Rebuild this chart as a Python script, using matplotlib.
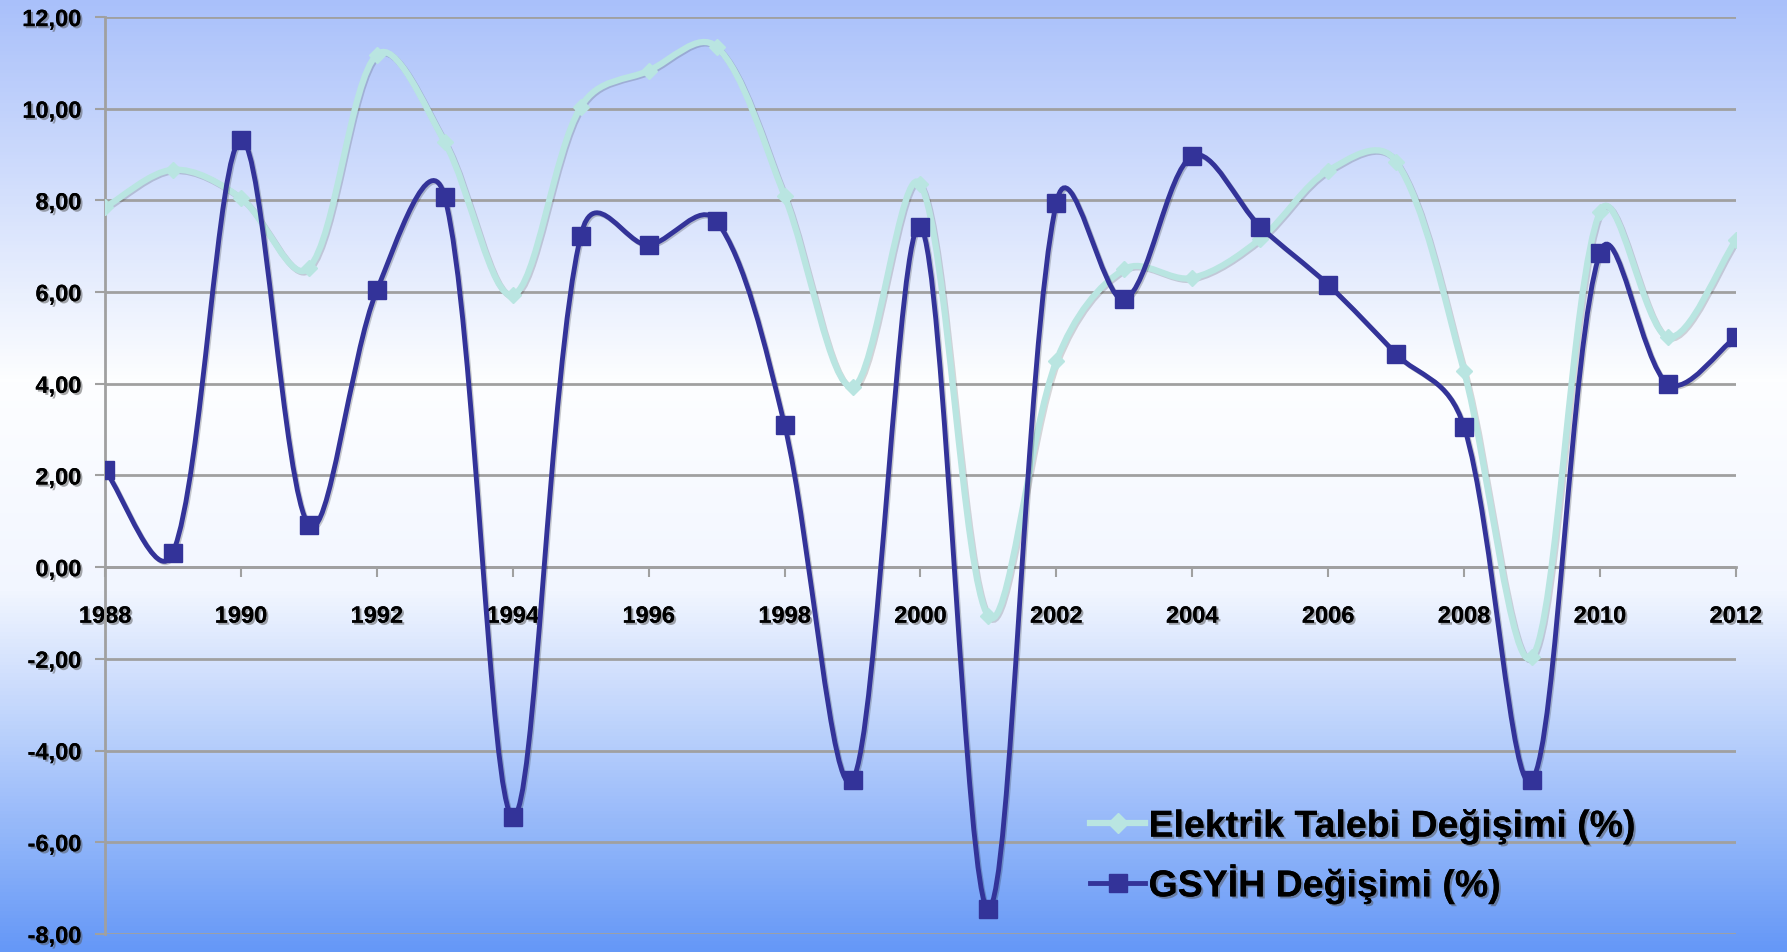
import matplotlib
matplotlib.use("Agg")
import matplotlib.pyplot as plt
import matplotlib.patheffects as pe
from matplotlib.path import Path
from matplotlib.patches import PathPatch
from matplotlib.lines import Line2D
from matplotlib.colors import LinearSegmentedColormap
import numpy as np

years = list(range(1988, 2013))
elektrik = [7.85, 8.67, 8.05, 6.53, 11.18, 9.27, 5.94, 10.04, 10.83, 11.35, 8.10, 3.93, 8.35,
            -1.07, 4.50, 6.50, 6.31, 7.16, 8.65, 8.85, 4.27, -1.96, 7.75, 5.02, 7.13]
gsyih = [2.11, 0.32, 9.32, 0.92, 6.04, 8.07, -5.44, 7.23, 7.03, 7.55, 3.10, -4.65, 7.43,
         -7.45, 7.95, 5.84, 8.97, 7.43, 6.16, 4.65, 3.06, -4.65, 6.86, 4.00, 5.02]
labels = ["Elektrik Talebi Değişimi (%)", "GSYİH Değişimi (%)"]
yticks = [-8, -6, -4, -2, 0, 2, 4, 6, 8, 10, 12]
xticks = list(range(1988, 2013, 2))

plt.rcParams['font.family'] = ['Liberation Sans', 'DejaVu Sans']

light = '#b9e5e1'
dark = '#333399'
shadow = [pe.withSimplePatchShadow(offset=(1.5, -1.5), shadow_rgbFace='#555555', alpha=0.5), pe.Normal()]


def smooth_path(ax, x, y, mix=0.5):
    # smoothed line like excel: bezier segments, arms partly split by segment length (pixels)
    pts = ax.transData.transform(np.column_stack([x, y]).astype(float))
    n = len(pts)
    arms_in, arms_out = [], []
    for i in range(n):
        p0 = pts[max(i - 1, 0)]
        p2 = pts[min(i + 1, n - 1)]
        d0 = np.hypot(*(pts[i] - p0))
        d1 = np.hypot(*(p2 - pts[i]))
        tot = d0 + d1
        t = (p2 - p0) / 3.0
        w0 = mix * d0 / tot + (1 - mix) * 0.5
        w1 = mix * d1 / tot + (1 - mix) * 0.5
        arms_in.append(t * w0)
        arms_out.append(t * w1)
    verts = [pts[0]]
    codes = [Path.MOVETO]
    for i in range(n - 1):
        verts += [pts[i] + arms_out[i], pts[i + 1] - arms_in[i + 1], pts[i + 1]]
        codes += [Path.CURVE4] * 3
    verts = ax.transData.inverted().transform(np.array(verts))
    return Path(verts, codes)


fig = plt.figure(figsize=(17.87, 9.53), dpi=100)

# background gradient
bg = fig.add_axes([0, 0, 1, 1], zorder=-10)
cmap = LinearSegmentedColormap.from_list('bg', [(0.0, '#a9c0fa'), (0.40, '#fdfeff'), (0.62, '#f2f6ff'), (1.0, '#6598f7')])
grad = np.linspace(0, 1, 256).reshape(-1, 1)
bg.imshow(grad, aspect='auto', cmap=cmap, extent=[0, 1, 0, 1], origin='upper')
bg.set_axis_off()

ax = fig.add_axes([0.0588, 0.019, 0.9126, 0.962])
ax.set_facecolor('none')
ax.set_xlim(1988, 2012)
ax.set_ylim(-8, 12)

ax.add_patch(PathPatch(smooth_path(ax, years, elektrik), fill=False, edgecolor=light, lw=4.5, zorder=3,
                       path_effects=[pe.SimpleLineShadow(offset=(1, -1), alpha=0.15), pe.Normal()]))
ax.plot(years, elektrik, linestyle='none', marker='D', markersize=8, color=light, zorder=4)
ax.add_patch(PathPatch(smooth_path(ax, years, gsyih), fill=False, edgecolor=dark, lw=3.5, zorder=5,
                       path_effects=[pe.SimpleLineShadow(offset=(1, -1), alpha=0.2), pe.Normal()]))
ax.plot(years, gsyih, linestyle='none', marker='s', markersize=13, color=dark, zorder=6)

ax.set_yticks(yticks)
ax.set_yticklabels([f"{v:.2f}".replace('.', ',') for v in yticks])
ax.set_xticks(xticks)
ax.set_xticklabels([str(v) for v in xticks])
ax.grid(axis='y', color='#a0a0a0', lw=2)
ax.set_axisbelow(True)

for s in ['top', 'right']:
    ax.spines[s].set_visible(False)
ax.spines['left'].set_color('#a0a0a0')
ax.spines['left'].set_linewidth(2)
ax.spines['bottom'].set_position(('data', 0))
ax.spines['bottom'].set_color('#a0a0a0')
ax.spines['bottom'].set_linewidth(2)
ax.tick_params(axis='y', length=7, width=1.5, color='#a0a0a0', pad=10, labelsize=17)
ax.tick_params(axis='x', direction='out', length=7, width=1.5, color='#a0a0a0', pad=20, labelsize=17)
for t in ax.get_xticklabels() + ax.get_yticklabels():
    t.set_fontweight('bold')
    t.set_path_effects(shadow)

handles = [Line2D([], [], color=light, lw=4.5, marker='D', markersize=10),
           Line2D([], [], color=dark, lw=3.5, marker='s', markersize=13)]
leg = ax.legend(handles, labels, loc='upper left', bbox_to_anchor=(0.595, 0.153), frameon=False,
                prop={'size': 27, 'weight': 'bold'}, handlelength=1.45, handletextpad=0.1, labelspacing=0.5,
                borderaxespad=0)
for t in leg.get_texts():
    t.set_path_effects(shadow)

fig.savefig('out.png', dpi=100)
